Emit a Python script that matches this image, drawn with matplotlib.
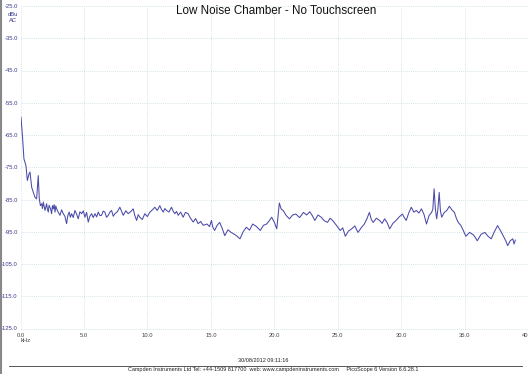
import matplotlib
matplotlib.use("Agg")
import matplotlib.pyplot as plt
from matplotlib.lines import Line2D

plt.rcParams['font.family'] = ['Liberation Sans', 'DejaVu Sans']

title = "Low Noise Chamber - No Touchscreen"
freq_khz = [0.04, 0.17, 0.27, 0.43, 0.54, 0.67, 0.75, 0.88, 1.01, 1.14, 1.27, 1.40,
            1.48, 1.57, 1.67, 1.73, 1.80, 1.86, 1.93, 2.00, 2.06, 2.12, 2.19, 2.25, 2.32,
            2.38, 2.45, 2.52, 2.58, 2.65, 2.72, 2.78, 2.85, 2.98, 3.11, 3.24, 3.37, 3.50,
            3.63, 3.73, 3.84, 3.93, 4.03, 4.16, 4.29, 4.42, 4.55, 4.68, 4.82, 4.95, 5.08,
            5.21, 5.34, 5.47, 5.60, 5.73, 5.87, 6.00, 6.13, 6.26, 6.39, 6.52, 6.65, 6.78,
            6.92, 7.05, 7.18, 7.31, 7.44, 7.63, 7.83, 7.96, 8.10, 8.30, 8.49, 8.68, 8.88,
            9.00, 9.15, 9.28, 9.41, 9.60, 9.80, 10.00, 10.20, 10.40, 10.59, 10.78, 10.98,
            11.10, 11.25, 11.38, 11.51, 11.70, 11.90, 12.03, 12.16, 12.30, 12.43, 12.62,
            12.82, 13.00, 13.21, 13.40, 13.61, 13.80, 14.00, 14.20, 14.40, 14.70, 14.90,
            15.05, 15.15, 15.30, 15.50, 15.70, 15.90, 16.10, 16.35, 16.60, 16.95, 17.30,
            17.55, 17.80, 18.05, 18.30, 18.60, 18.90, 19.15, 19.40, 19.60, 19.80, 20.00,
            20.20, 20.40, 20.55, 20.70, 20.95, 21.20, 21.45, 21.70, 22.00, 22.30, 22.55,
            22.80, 23.00, 23.20, 23.45, 23.70, 23.95, 24.20, 24.40, 24.60, 24.90, 25.20,
            25.40, 25.60, 25.85, 26.10, 26.35, 26.60, 26.85, 27.10, 27.30, 27.50, 27.65,
            27.80, 28.05, 28.30, 28.50, 28.70, 28.90, 29.10, 29.35, 29.60, 29.85, 30.10,
            30.25, 30.40, 30.60, 30.80, 31.00, 31.20, 31.40, 31.60, 31.80, 32.00, 32.20,
            32.40, 32.50, 32.60, 32.70, 32.80, 32.90, 33.00, 33.10, 33.20, 33.40, 33.60,
            33.80, 34.00, 34.20, 34.35, 34.50, 34.70, 34.90, 35.10, 35.40, 35.70, 35.85,
            36.00, 36.30, 36.60, 36.85, 37.10, 37.35, 37.60, 37.85, 38.10, 38.25, 38.40,
            38.60, 38.80, 38.90, 39.00]
level_dbu = [-59.5, -66.2, -72.4, -74.5, -79.1, -77.1, -76.5, -81.2, -82.7, -84.3, -84.8, -77.6,
             -84.8, -86.9, -86.3, -87.8, -85.8, -87.0, -88.4, -87.2, -86.3, -88.0, -88.9, -86.8, -87.4,
             -88.0, -89.4, -86.9, -87.9, -86.6, -88.9, -87.0, -87.9, -89.0, -89.9, -88.2, -89.4, -90.2,
             -92.5, -90.0, -88.9, -90.5, -89.4, -90.6, -88.4, -89.5, -91.0, -88.8, -89.4, -88.5, -90.5,
             -89.0, -92.0, -90.2, -89.4, -90.6, -89.4, -90.4, -88.9, -90.0, -89.9, -88.6, -88.9, -90.5,
             -89.9, -88.9, -88.4, -90.2, -89.4, -88.8, -87.4, -88.6, -89.9, -88.5, -89.4, -88.8, -87.9,
             -89.8, -91.5, -89.7, -90.5, -91.2, -89.4, -90.3, -88.9, -88.2, -87.4, -88.4, -86.9,
             -88.0, -88.9, -87.8, -88.4, -88.9, -87.4, -88.6, -89.4, -88.7, -89.9, -88.9,
             -90.5, -89.0, -89.4, -90.8, -92.0, -90.9, -92.5, -91.8, -93.0, -92.6, -93.4,
             -91.5, -93.5, -94.6, -93.0, -92.1, -94.0, -96.2, -94.4, -95.2, -96.0, -97.2,
             -95.0, -93.6, -94.5, -92.6, -93.4, -94.6, -93.0, -92.6, -91.6, -90.5, -92.0,
             -94.1, -86.1, -88.0, -88.4, -90.0, -91.0, -89.8, -89.5, -90.6, -89.0, -89.8,
             -88.8, -90.0, -91.5, -89.8, -90.5, -91.6, -92.1, -90.8, -91.5, -93.0, -94.6,
             -93.8, -96.4, -94.8, -94.1, -93.2, -95.2, -93.8, -92.6, -91.0, -89.0, -91.2,
             -92.1, -90.8, -91.5, -92.4, -91.0, -92.2, -94.1, -92.4, -91.5, -90.4, -89.5,
             -90.6, -91.5, -89.2, -87.4, -88.9, -88.4, -89.2, -87.9, -89.6, -92.6, -90.0,
             -89.0, -88.0, -81.7, -88.0, -91.0, -88.0, -82.8, -88.6, -90.5, -89.0, -88.4,
             -87.1, -88.2, -89.0, -90.8, -92.1, -93.0, -94.6, -96.4, -95.2, -96.0, -96.8,
             -97.8, -95.8, -95.2, -96.4, -97.2, -95.0, -93.1, -94.8, -96.7, -97.8, -99.3,
             -97.8, -97.2, -98.8, -97.6]
x_ticks = [0, 5, 10, 15, 20, 25, 30, 35, 40]
x_tick_labels = ["0.0", "5.0", "10.0", "15.0", "20.0", "25.0", "30.0", "35.0", "40"]
y_ticks = [-25, -35, -45, -55, -65, -75, -85, -95, -105, -115, -125]
y_tick_labels = ["-25.0", "-35.0", "-45.0", "-55.0", "-65.0", "-75.0", "-85.0", "-95.0",
                 "-105.0", "-115.0", "-125.0"]

W, H = 528, 374
fig = plt.figure(figsize=(W / 100, H / 100), dpi=100)
fig.patch.set_facecolor("white")
ax = fig.add_axes([20.5 / W, 1 - 328.5 / H, (528 - 20.5) / W, (328.5 - 6) / H])
ax.plot(freq_khz, level_dbu, color="#4a4aa8", lw=0.75)
ax.set_xlim(0, 40)
ax.set_ylim(-125, -25)
for s in ax.spines.values():
    s.set_visible(False)
ax.set_xticks(x_ticks)
ax.set_xticklabels(x_tick_labels, fontsize=4.2, color="#444444")
ax.get_xticklabels()[-1].set_horizontalalignment("right")
ax.set_yticks(y_ticks)
ax.set_yticklabels(y_tick_labels, fontsize=4.2, color="#3a3a90")
ax.tick_params(length=0)
ax.tick_params(axis="y", pad=2)
ax.tick_params(axis="x", pad=3)
grid_color = "#c8dde2"
for xv in x_ticks:
    ax.axvline(xv, color=grid_color, lw=0.6, ls=(0, (1, 1.5)), zorder=0, clip_on=False)
for yv in y_ticks:
    ax.axhline(yv, color=grid_color, lw=0.6, ls=(0, (1, 1.5)), zorder=0, clip_on=False)

fig.text(276 / W, 1 - 11 / H, title, fontsize=8.4, ha="center", va="center", color="#111111")
fig.text(13 / W, 1 - 14 / H, "dBu", fontsize=4.2, ha="center", va="center", color="#3a3a90")
fig.text(13 / W, 1 - 20.5 / H, "AC", fontsize=4.2, ha="center", va="center", color="#3a3a90")
fig.text(26 / W, 1 - 341 / H, "kHz", fontsize=4.2, ha="center", va="center", color="#444444")
fig.text(263 / W, 1 - 361 / H, "30/08/2012 09:11:16", fontsize=4.0, ha="center",
         va="center", color="#222222")
fig.text(273 / W, 1 - 370 / H,
         "Campden Instruments Ltd Tel: +44-1509 817700  web: www.campdeninstruments.com     PicoScope 6 Version 6.6.28.1",
         fontsize=4.0, ha="center", va="center", color="#222222")
fig.add_artist(Line2D([9 / W, 522 / W], [1 - 366 / H, 1 - 366 / H], color="#555555", lw=0.7))
fig.add_artist(Line2D([0.8 / W, 0.8 / W], [0, 1], color="#888888", lw=1.5))

fig.savefig("out.png", dpi=100)
